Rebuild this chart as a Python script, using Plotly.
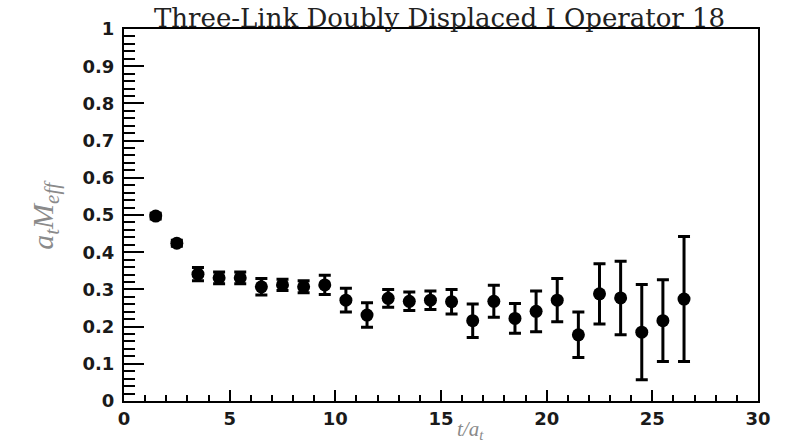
import plotly.graph_objects as go

# Effective mass plateau for operator 18
t_vals = [1.5, 2.5, 3.5, 4.5, 5.5, 6.5, 7.5, 8.5, 9.5, 10.5, 11.5, 12.5, 13.5,
          14.5, 15.5, 16.5, 17.5, 18.5, 19.5, 20.5, 21.5, 22.5, 23.5, 24.5, 25.5, 26.5]
m_eff = [0.497, 0.424, 0.341, 0.331, 0.331, 0.307, 0.312, 0.307, 0.312, 0.271,
         0.231, 0.276, 0.268, 0.271, 0.267, 0.216, 0.268, 0.222, 0.241, 0.271,
         0.178, 0.288, 0.277, 0.185, 0.216, 0.274]
m_err = [0.008, 0.008, 0.018, 0.016, 0.016, 0.022, 0.015, 0.016, 0.026, 0.032,
         0.033, 0.024, 0.025, 0.025, 0.033, 0.045, 0.043, 0.040, 0.055, 0.058,
         0.061, 0.081, 0.099, 0.128, 0.110, 0.168]

title_text = "Three-Link Doubly Displaced I Operator 18"
x_ticks = [0, 5, 10, 15, 20, 25, 30]
y_ticks = [0, 0.1, 0.2, 0.3, 0.4, 0.5, 0.6, 0.7, 0.8, 0.9, 1]
y_tick_text = ["0", "0.1", "0.2", "0.3", "0.4", "0.5", "0.6", "0.7", "0.8", "0.9", "1"]

fig = go.Figure()
fig.add_trace(go.Scatter(
    x=t_vals, y=m_eff, mode="markers",
    marker=dict(symbol="circle", size=13, color="black"),
    error_y=dict(type="data", array=m_err, visible=True,
                 color="black", thickness=3, width=6),
    showlegend=False,
))

tick_font = dict(family="DejaVu Sans", size=18, color="#1a1a1a", weight="bold")

fig.update_xaxes(
    range=[0, 30], tickvals=x_ticks, ticktext=[str(v) for v in x_ticks],
    showgrid=False, zeroline=False,
    showline=True, linecolor="black", linewidth=2, mirror=True,
    ticks="inside", ticklen=11, tickwidth=2, tickcolor="black",
    minor=dict(dtick=1, ticks="inside", ticklen=6, tickwidth=2, tickcolor="black"),
    tickfont=tick_font, ticklabelstandoff=0,
)
fig.update_yaxes(
    range=[0, 1], tickvals=y_ticks, ticktext=y_tick_text,
    showgrid=False, zeroline=False,
    showline=True, linecolor="black", linewidth=2, mirror=True,
    ticks="inside", ticklen=20, tickwidth=2, tickcolor="black",
    minor=dict(dtick=0.02, ticks="inside", ticklen=11, tickwidth=2, tickcolor="black"),
    tickfont=tick_font, ticklabelstandoff=4,
)

fig.add_annotation(
    text=title_text, xref="paper", yref="paper", x=0.498, y=1,
    xanchor="center", yanchor="bottom", yshift=-6, showarrow=False,
    font=dict(family="DejaVu Serif", size=26, color="#222222"),
)
fig.add_annotation(
    text="<i>a<sub>t</sub>M<sub>eff</sub></i>", xref="paper", yref="paper",
    x=-0.125, y=0.50, textangle=-90, showarrow=False,
    xanchor="center", yanchor="middle",
    font=dict(family="Liberation Serif", size=30, color="#8a8a8a"),
)
fig.add_annotation(
    text="<i>t/a<sub>t</sub></i>", xref="paper", yref="paper",
    x=0.546, y=0, yshift=-44, showarrow=False,
    xanchor="center", yanchor="bottom",
    font=dict(family="Liberation Serif", size=21, color="#8a8a8a"),
)

fig.update_layout(
    width=785, height=445,
    margin=dict(l=124, r=27, t=29, b=44),
    plot_bgcolor="white", paper_bgcolor="white",
)

fig.write_html("out.html")
